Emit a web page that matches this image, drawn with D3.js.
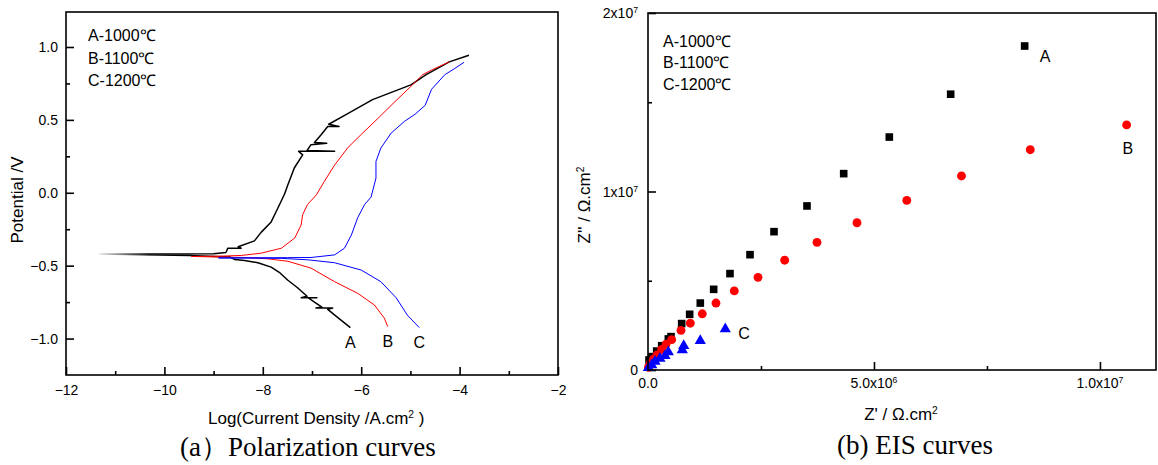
<!DOCTYPE html>
<html>
<head>
<meta charset="utf-8">
<script src="https://cdn.jsdelivr.net/npm/d3@7"></script>
<style>
  body { margin: 0; background: #fff; }
  svg text { font-family: "Liberation Sans", Arial, sans-serif; fill: #000; }
</style>
</head>
<body>
<div id="chart"></div>
<script>
// polarization curves: [log current density, potential V]
const polA = [[-6.22,-0.925],[-6.50,-0.85],[-6.68,-0.80],[-6.58,-0.79],[-6.92,-0.79],[-6.80,-0.785],
  [-6.95,-0.75],[-7.08,-0.72],[-6.90,-0.72],[-7.22,-0.72],[-7.10,-0.71],[-7.30,-0.65],[-7.49,-0.60],
  [-7.65,-0.55],[-7.83,-0.51],[-8.10,-0.48],[-8.37,-0.465],[-8.57,-0.458],[-8.67,-0.44],[-9.5,-0.43],
  [-11.31,-0.42],[-9.0,-0.418],[-8.75,-0.41],[-8.71,-0.38],[-8.44,-0.38],[-8.50,-0.37],[-8.17,-0.33],
  [-8.03,-0.27],[-7.83,-0.20],[-7.73,-0.13],[-7.63,-0.06],[-7.56,-0.01],[-7.49,0.055],[-7.36,0.17],
  [-7.19,0.26],[-7.27,0.284],[-6.54,0.284],[-7.10,0.29],[-7.02,0.33],[-6.70,0.34],[-6.95,0.345],
  [-6.81,0.40],[-6.68,0.455],[-6.45,0.455],[-6.66,0.47],[-6.31,0.536],[-5.77,0.639],[-4.99,0.74],
  [-4.68,0.81],[-4.21,0.898],[-3.81,0.943]];
const polB = [[-5.46,-0.918],[-5.53,-0.86],[-5.73,-0.77],[-6.07,-0.69],[-6.54,-0.61],[-7.02,-0.517],
  [-7.49,-0.47],[-7.90,-0.453],[-8.37,-0.444],[-9.0,-0.44],[-9.45,-0.437],[-8.9,-0.435],[-8.44,-0.43],
  [-8.03,-0.414],[-7.62,-0.38],[-7.35,-0.31],[-7.22,-0.22],[-7.19,-0.15],[-7.09,-0.08],[-6.91,-0.014],
  [-6.75,0.078],[-6.54,0.19],[-6.27,0.31],[-6.00,0.40],[-5.66,0.51],[-5.33,0.62],[-4.99,0.73],
  [-4.75,0.81],[-4.55,0.845],[-4.21,0.898]];
const polC = [[-4.82,-0.925],[-5.06,-0.84],[-5.29,-0.72],[-5.60,-0.61],[-6.00,-0.53],[-6.54,-0.48],
  [-7.08,-0.46],[-7.62,-0.45],[-8.3,-0.448],[-8.9,-0.447],[-8.2,-0.446],[-7.5,-0.445],[-7.02,-0.444],
  [-6.54,-0.426],[-6.34,-0.38],[-6.20,-0.29],[-6.07,-0.17],[-5.93,-0.08],[-5.80,-0.03],[-5.70,0.10],
  [-5.70,0.215],[-5.60,0.307],[-5.39,0.41],[-5.12,0.49],[-4.90,0.54],[-4.70,0.60],[-4.57,0.71],
  [-4.30,0.81],[-4.11,0.85],[-3.91,0.895]];
const polNames = ["A", "B", "C"];
const legendLabels = ["A-1000℃", "B-1100℃", "C-1200℃"];
const polXTicks = [-12, -10, -8, -6, -4, -2];
const polXMinor = [-11, -9, -7, -5, -3];
const polYTicks = [-1.0, -0.5, 0.0, 0.5, 1.0];
const polYMinor = [-0.75, -0.25, 0.25, 0.75];

// EIS: [Z', Z''] in ohm.cm2
const eisA = [[0.022e6,0.56e6],[0.082e6,0.75e6],[0.192e6,1.06e6],[0.303e6,1.36e6],[0.450e6,1.74e6],
  [0.509e6,1.87e6],[0.745e6,2.60e6],[0.922e6,3.12e6],[1.157e6,3.75e6],[1.453e6,4.52e6],[1.814e6,5.40e6],
  [2.257e6,6.46e6],[2.788e6,7.75e6],[3.518e6,9.19e6],[4.330e6,11.0e6],[5.339e6,13.05e6],[6.697e6,15.45e6],
  [8.334e6,18.15e6]];
const eisB = [[0.01e6,0.15e6],[0.05e6,0.35e6],[0.12e6,0.6e6],[0.2e6,0.85e6],[0.30e6,1.15e6],[0.40e6,1.45e6],
  [0.524e6,1.70e6],[0.730e6,2.22e6],[0.936e6,2.62e6],[1.201e6,3.15e6],[1.504e6,3.75e6],[1.909e6,4.43e6],
  [2.434e6,5.19e6],[3.024e6,6.15e6],[3.739e6,7.15e6],[4.624e6,8.25e6],[5.726e6,9.50e6],[6.936e6,10.87e6],
  [8.458e6,12.34e6],[10.59e6,13.73e6]];
const eisC = [[0.01e6,0.13e6],[0.082e6,0.28e6],[0.155e6,0.47e6],[0.265e6,0.65e6],[0.376e6,0.80e6],
  [0.449e6,1.01e6],[0.759e6,1.12e6],[0.790e6,1.36e6],[1.157e6,1.64e6],[1.710e6,2.30e6]];
const eisXTicks = [0, 5e6, 1e7];
const eisXMinor = [2.5e6, 7.5e6];
const eisXTickLabels = ["0.0", "5.0x10^6", "1.0x10^7"];
const eisYTicks = [0, 1e7, 2e7];
const eisYMinor = [5e6, 1.5e7];
const eisYTickLabels = ["0", "1x10^7", "2x10^7"];

const colors = ["#000000", "#ff0000", "#0000ff"];

const W = 1158, H = 465;
const svg = d3.select("#chart").append("svg")
  .attr("width", W).attr("height", H);

// write "a^b" as text with a superscript
function supText(sel, s) {
  const parts = s.split("^");
  sel.text(null);
  sel.append("tspan").text(parts[0]);
  if (parts[1]) sel.append("tspan").attr("dy", "-0.55em").style("font-size", "0.62em").text(parts[1]);
}

function frame(g, x0, y0, x1, y1) {
  g.append("rect").attr("x", x0).attr("y", y0)
    .attr("width", x1 - x0).attr("height", y1 - y0)
    .attr("fill", "none").attr("stroke", "#000").attr("stroke-width", 1.6);
}

function ticks(g, axis) {
  g.call(axis);
  g.select(".domain").remove();
  g.selectAll(".tick line").attr("stroke", "#000").attr("stroke-width", 1.6);
}

// ---------- (a) polarization curves ----------
const pa = { left: 66, right: 558, top: 12, bottom: 375 };
const px = d3.scaleLinear().domain([-12, -2]).range([pa.left, pa.right]);
const py = d3.scaleLinear().domain([-1.25, 1.24]).range([pa.bottom, pa.top]);
const ga = svg.append("g");

// the far left tail of curve A fades out to grey
const grad = svg.append("defs").append("linearGradient")
  .attr("id", "fadeA").attr("gradientUnits", "userSpaceOnUse")
  .attr("x1", px(-11.31)).attr("x2", px(-10.3)).attr("y1", 0).attr("y2", 0);
grad.append("stop").attr("offset", 0).attr("stop-color", "#e0e0e0");
grad.append("stop").attr("offset", 1).attr("stop-color", "#000");

ticks(ga.append("g").attr("transform", `translate(0,${pa.bottom})`),
  d3.axisBottom(px).tickValues(polXMinor).tickSize(-4).tickFormat(""));
ticks(ga.append("g").attr("transform", `translate(${pa.left},0)`),
  d3.axisLeft(py).tickValues(polYMinor).tickSize(-4).tickFormat(""));
ticks(ga.append("g").attr("transform", `translate(0,${pa.bottom})`),
  d3.axisBottom(px).tickValues(polXTicks).tickSize(-8).tickPadding(10).tickFormat(d3.format("d")));
ticks(ga.append("g").attr("transform", `translate(${pa.left},0)`),
  d3.axisLeft(py).tickValues(polYTicks).tickSize(-8).tickPadding(8).tickFormat(d3.format(".1f")));
ga.selectAll(".tick text").style("font-size", "14px").attr("fill", "#000")
  .style("font-family", "'Liberation Sans', Arial, sans-serif");

const line = d3.line().x(d => px(d[0])).y(d => py(d[1]));
[polA, polB, polC].forEach((s, i) => {
  ga.append("path").datum(s)
    .attr("d", line)
    .attr("fill", "none")
    .attr("stroke", i === 0 ? "url(#fadeA)" : colors[i])
    .attr("stroke-width", i === 0 ? 1.5 : 1)
    .attr("stroke-linejoin", "round");
  const end = s[0];
  ga.append("text")
    .attr("x", px(end[0])).attr("y", py(end[1]) + 20)
    .attr("text-anchor", "middle")
    .style("font-size", "16px")
    .text(polNames[i]);
});

frame(ga, pa.left, pa.top, pa.right, pa.bottom);

legendLabels.forEach((t, i) => {
  ga.append("text").attr("x", 88).attr("y", 41 + i * 22.5)
    .style("font-size", "16px").text(t);
});

ga.append("text")
  .attr("transform", `translate(23,200) rotate(-90)`)
  .attr("text-anchor", "middle")
  .style("font-size", "17px")
  .text("Potential /V");

const xl = ga.append("text").attr("x", 208).attr("y", 424).style("font-size", "17px");
xl.append("tspan").text("Log(Current Density /A.cm");
xl.append("tspan").attr("dy", "-0.55em").style("font-size", "0.6em").text("2");
xl.append("tspan").attr("dy", "0.33em").text(" )");

ga.append("text")
  .attr("x", 180).attr("y", 456)
  .style("font-size", "27px")
  .style("font-family", "'Liberation Serif', 'Times New Roman', serif")
  .text("(a）Polarization curves");

// ---------- (b) EIS curves ----------
const pb = { left: 648, right: 1156, top: 13, bottom: 370 };
const ex = d3.scaleLinear().domain([0, 1.124e7]).range([pb.left, pb.right]);
const ey = d3.scaleLinear().domain([0, 2e7]).range([pb.bottom, pb.top]);
const gb = svg.append("g");

ticks(gb.append("g").attr("transform", `translate(0,${pb.bottom})`),
  d3.axisBottom(ex).tickValues(eisXMinor).tickSize(-4).tickFormat(""));
ticks(gb.append("g").attr("transform", `translate(${pb.left},0)`),
  d3.axisLeft(ey).tickValues(eisYMinor).tickSize(-4).tickFormat(""));
ticks(gb.append("g").attr("transform", `translate(0,${pb.bottom})`),
  d3.axisBottom(ex).tickValues(eisXTicks).tickSize(-8).tickFormat(""));
ticks(gb.append("g").attr("transform", `translate(${pb.left},0)`),
  d3.axisLeft(ey).tickValues(eisYTicks).tickSize(-8).tickFormat(""));

eisXTicks.forEach((v, i) => {
  gb.append("text").attr("x", ex(v)).attr("y", pb.bottom + 18)
    .attr("text-anchor", "middle").style("font-size", "14px")
    .call(supText, eisXTickLabels[i]);
});
eisYTicks.forEach((v, i) => {
  gb.append("text").attr("x", pb.left - 10).attr("y", ey(v) + 5)
    .attr("text-anchor", "end").style("font-size", "14px")
    .call(supText, eisYTickLabels[i]);
});

const sym = [d3.symbolSquare, d3.symbolCircle, d3.symbolTriangle];
const symSize = [58, 62, 55];
[eisA, eisB, eisC].forEach((s, i) => {
  gb.append("g").selectAll("path").data(s).join("path")
    .attr("transform", d => `translate(${ex(d[0])},${ey(d[1])})`)
    .attr("d", d3.symbol().type(sym[i]).size(symSize[i]))
    .attr("fill", colors[i]);
});

// series letters next to the last point
const labelOffset = [[15, 16], [-4, 29], [13, 10]];
[eisA, eisB, eisC].forEach((s, i) => {
  const last = s[s.length - 1];
  gb.append("text")
    .attr("x", ex(last[0]) + labelOffset[i][0])
    .attr("y", ey(last[1]) + labelOffset[i][1])
    .style("font-size", "16px")
    .text(polNames[i]);
});

frame(gb, pb.left, pb.top, pb.right, pb.bottom);

legendLabels.forEach((t, i) => {
  gb.append("text").attr("x", 663).attr("y", 47 + i * 21.3)
    .style("font-size", "16px").text(t);
});

const yl = gb.append("text")
  .attr("transform", `translate(590,205) rotate(-90)`)
  .attr("text-anchor", "middle")
  .style("font-size", "17px");
yl.append("tspan").text("Z'' / Ω.cm");
yl.append("tspan").attr("dy", "-0.55em").style("font-size", "0.6em").text("2");

const xl2 = gb.append("text").attr("x", 901).attr("y", 420)
  .attr("text-anchor", "middle").style("font-size", "17px");
xl2.append("tspan").text("Z' / Ω.cm");
xl2.append("tspan").attr("dy", "-0.55em").style("font-size", "0.6em").text("2");

gb.append("text")
  .attr("x", 837).attr("y", 454)
  .style("font-size", "27px")
  .style("font-family", "'Liberation Serif', 'Times New Roman', serif")
  .text("(b) EIS curves");
</script>
</body>
</html>
